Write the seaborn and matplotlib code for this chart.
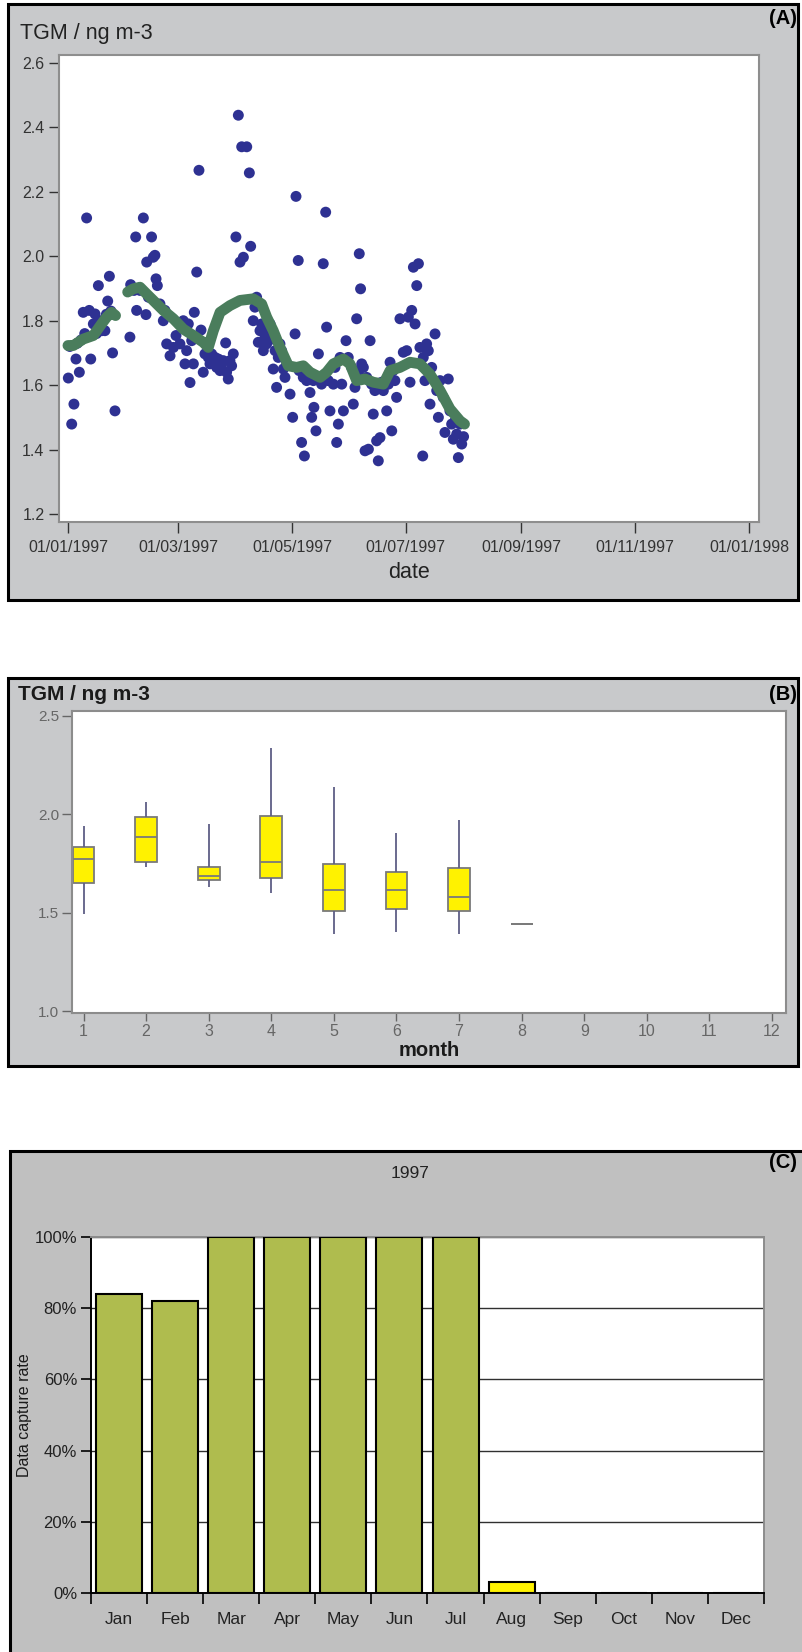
import numpy as np
import pandas as pd
import matplotlib
matplotlib.use("Agg")
import matplotlib.pyplot as plt
import matplotlib.dates as mdates
from matplotlib.patches import Rectangle
from matplotlib.ticker import FixedLocator, FuncFormatter
import seaborn as sns

# ---------------- data ----------------
# Panel A: daily TGM (day offset from 01/01/1997, value ng m-3)
tgm_day = [0.2, 1.0, 2.0, 3.2, 4.3, 5.0, 6.1, 7.0, 8.2, 9.0, 10.0, 11.4, 12.2, 13.6, 14.5, 15.3, 16.3, 17.2,
           18.1, 19.8, 20.6, 21.3, 22.2, 23.0, 23.9, 25.2,
           33.2, 33.6, 35.4, 36.3, 36.8, 38.6, 40.4, 41.8, 42.2, 43.1, 44.8, 45.7, 46.6, 47.2, 47.9, 49.3,
           51.1, 52.0, 52.9, 54.7, 56.5, 57.9,
           60.0, 61.8, 62.7, 63.6, 64.5, 65.4, 66.3, 67.2, 67.7, 69.0, 70.2, 71.3, 72.5, 73.4, 74.3, 75.2,
           76.1, 77.0, 77.9, 78.8, 79.7, 80.6, 81.5, 82.4, 83.2, 84.5, 85.0, 85.9, 86.8, 87.7, 88.6,
           90.0, 91.3, 92.2, 93.1, 94.0, 95.8, 97.2, 97.9, 99.3, 100.2, 101.1, 102.0, 102.9, 103.8, 104.7,
           105.6, 106.5, 107.4, 108.3, 109.2, 110.0, 111.0, 111.8, 112.7, 113.6, 114.5, 115.4, 116.3,
           117.2, 119.0,
           120.4, 121.7, 122.2, 123.4, 123.9, 125.2, 126.1, 126.7, 127.9, 128.8, 129.7, 130.6, 131.5,
           131.8, 132.9, 134.2, 135.9, 136.8, 138.1, 138.6, 139.5, 140.4, 142.2, 143.1, 144.0, 144.9,
           145.8, 146.7, 147.6, 149.0, 150.2,
           152.0, 152.9, 153.8, 154.7, 155.6, 156.1, 156.8, 157.4, 158.3, 159.2, 160.1, 161.0, 161.9,
           162.7, 163.6, 164.5, 165.4, 166.3, 167.2, 168.1, 169.0, 170.8, 171.7, 172.6, 173.5, 174.3,
           175.2, 176.1, 177.9, 179.7,
           181.5, 182.4, 183.3, 184.2, 185.1, 186.0, 186.9, 187.8, 188.6, 190.1, 190.4, 191.3, 192.2,
           193.1, 194.0, 194.9, 196.7, 197.6, 198.5, 199.4, 201.1, 202.0, 203.8, 204.7, 205.6, 206.5,
           207.4, 208.3, 209.2, 210.1, 211.0,
           212.0]
tgm_val = [1.622, 1.720, 1.479, 1.541, 1.681, 1.730, 1.640, 1.740, 1.826, 1.760, 2.119, 1.832, 1.681, 1.790,
           1.821, 1.760, 1.909, 1.800, 1.769, 1.769, 1.820, 1.861, 1.938, 1.830, 1.700, 1.520,
           1.749, 1.912, 1.894, 2.060, 1.832, 1.894, 2.119, 1.819, 1.982, 1.873, 2.060, 1.997, 2.003,
           1.930, 1.909, 1.852, 1.800, 1.832, 1.728, 1.691, 1.717, 1.754,
           1.728, 1.800, 1.666, 1.707, 1.790, 1.608, 1.738, 1.666, 1.826, 1.951, 2.267, 1.771, 1.640,
           1.697, 1.728, 1.686, 1.666, 1.697, 1.676, 1.686, 1.655, 1.681, 1.645, 1.666, 1.676, 1.731,
           1.640, 1.619, 1.676, 1.660, 1.697,
           2.060, 2.438, 1.982, 2.340, 1.997, 2.340, 2.259, 2.031, 1.800, 1.842, 1.873, 1.733, 1.769,
           1.790, 1.707, 1.748, 1.728, 1.769, 1.790, 1.743, 1.650, 1.707, 1.593, 1.686, 1.728, 1.707,
           1.650, 1.624, 1.666, 1.572,
           1.500, 1.759, 2.186, 1.987, 1.645, 1.422, 1.624, 1.380, 1.614, 1.640, 1.577, 1.500, 1.614,
           1.531, 1.458, 1.697, 1.603, 1.977, 2.137, 1.780, 1.614, 1.520, 1.603, 1.655, 1.422, 1.479,
           1.686, 1.603, 1.520, 1.738, 1.686,
           1.655, 1.541, 1.593, 1.806, 1.640, 2.008, 1.899, 1.666, 1.655, 1.396, 1.624, 1.401, 1.738,
           1.603, 1.510, 1.583, 1.427, 1.365, 1.437, 1.609, 1.583, 1.520, 1.603, 1.671, 1.458, 1.645,
           1.614, 1.562, 1.806, 1.702,
           1.707, 1.811, 1.609, 1.832, 1.966, 1.790, 1.909, 1.977, 1.717, 1.380, 1.686, 1.614, 1.728,
           1.707, 1.541, 1.655, 1.759, 1.583, 1.500, 1.614, 1.562, 1.453, 1.619, 1.520, 1.479, 1.432,
           1.489, 1.448, 1.375, 1.479, 1.417,
           1.440]

# Panel A: smoothed curve (two segments)
smooth1_day = [0.0, 2.9, 8.2, 13.6, 18.0, 20.7, 23.4, 25.5]
smooth1_val = [1.723, 1.723, 1.743, 1.754, 1.790, 1.811, 1.826, 1.816]
smooth2_day = [32.0, 35.0, 38.6, 42.2, 45.7, 51.1, 56.5, 61.8, 67.2, 72.5, 75.2, 77.9, 81.5, 86.8, 92.2,
               99.3, 103.8, 106.5, 110.0, 113.6, 118.1, 122.5, 126.1, 129.7, 135.1, 138.6, 142.2, 147.6,
               151.1, 154.7, 159.2, 163.6, 169.0, 172.6, 177.9, 183.3, 188.6, 194.0, 199.4, 204.7, 210.1,
               212.5]
smooth2_val = [1.889, 1.899, 1.904, 1.883, 1.863, 1.832, 1.806, 1.774, 1.754, 1.733, 1.717, 1.769, 1.826,
               1.847, 1.863, 1.868, 1.852, 1.811, 1.769, 1.717, 1.660, 1.655, 1.660, 1.640, 1.624, 1.640,
               1.666, 1.681, 1.666, 1.614, 1.619, 1.609, 1.603, 1.645, 1.655, 1.671, 1.666, 1.634, 1.583,
               1.526, 1.489, 1.479]

# Panel B: monthly box statistics
box_month = [1, 2, 3, 4, 5, 6, 7, 8]
box_low = [1.492, 1.731, 1.632, 1.599, 1.392, 1.400, 1.392, 1.440]
box_q1 = [1.649, 1.756, 1.665, 1.678, 1.509, 1.517, 1.509, 1.440]
box_med = [1.771, 1.885, 1.687, 1.759, 1.615, 1.615, 1.578, 1.440]
box_q3 = [1.836, 1.987, 1.734, 1.993, 1.748, 1.705, 1.726, 1.440]
box_high = [1.942, 2.061, 1.951, 2.337, 2.139, 1.905, 1.971, 1.440]
month_ticks = list(range(1, 13))

# Panel C: data capture rate (%)
cap_month = ["Jan", "Feb", "Mar", "Apr", "May", "Jun", "Jul", "Aug", "Sep", "Oct", "Nov", "Dec"]
cap_rate = [84, 82, 100, 100, 100, 100, 100, 3, 0, 0, 0, 0]
pct_ticks = [0, 20, 40, 60, 80, 100]

# ---------------- figure ----------------
sns.set_theme(style="white")
plt.rcParams["font.family"] = ["Liberation Sans", "DejaVu Sans"]
W, H = 803, 1652
fig = plt.figure(figsize=(W / 100, H / 100), dpi=100)
fig.patch.set_facecolor("white")


def ax_at(x0, y0, x1, y1):
    return fig.add_axes([x0 / W, 1 - y1 / H, (x1 - x0) / W, (y1 - y0) / H])


def panel(x0, y0, x1, y1, fc):
    fig.add_artist(Rectangle((x0 / W, 1 - y1 / H), (x1 - x0) / W, (y1 - y0) / H,
                             transform=fig.transFigure, facecolor=fc, edgecolor="black",
                             linewidth=2.2, zorder=-10))


def ftext(x, y, s, **kw):
    fig.text(x / W, 1 - y / H, s, **kw)


# ---------- Panel A ----------
panel(8, 4, 798, 600, "#C8C9CB")
axA = ax_at(59, 55, 759, 522)
base = pd.Timestamp("1997-01-01")
dfA = pd.DataFrame({"date": base + pd.to_timedelta(tgm_day, unit="D"), "tgm": tgm_val})
df1 = pd.DataFrame({"date": base + pd.to_timedelta(smooth1_day, unit="D"), "tgm": smooth1_val})
df2 = pd.DataFrame({"date": base + pd.to_timedelta(smooth2_day, unit="D"), "tgm": smooth2_val})
sns.scatterplot(data=dfA, x="date", y="tgm", ax=axA, color="#2E3192", s=62,
                edgecolor="none", linewidth=0, zorder=2)
for d in (df1, df2):
    sns.lineplot(data=d, x="date", y="tgm", ax=axA, color="#4A7D5C", linewidth=7.8,
                 estimator=None, sort=False, zorder=3, solid_capstyle="round")
axA.set_facecolor("white")
axA.set_xlim(base - pd.Timedelta(days=4.8), base + pd.Timedelta(days=370.3))
axA.set_ylim(1.175, 2.625)
axA.set_yticks([1.2, 1.4, 1.6, 1.8, 2.0, 2.2, 2.4, 2.6])
axA.yaxis.set_major_formatter(FuncFormatter(lambda v, p: f"{v:.1f}"))
xt = [pd.Timestamp(s) for s in ["1997-01-01", "1997-03-01", "1997-05-01", "1997-07-01",
                                "1997-09-01", "1997-11-01", "1998-01-01"]]
axA.set_xticks(xt)
axA.xaxis.set_major_formatter(mdates.DateFormatter("%d/%m/%Y"))
axA.set_xlabel("")
axA.set_ylabel("")
for sp in axA.spines.values():
    sp.set_color("#8E8E8E")
    sp.set_linewidth(1.5)
axA.tick_params(axis="y", direction="out", length=7, width=1, color="#333333",
                labelsize=11.5, labelcolor="#333333", pad=3.5, left=True)
axA.tick_params(axis="x", direction="out", length=8, width=1, color="#333333",
                labelsize=11.5, labelcolor="#333333", pad=5, bottom=True)
ftext(20, 33, "TGM / ng m-3", fontsize=15.5, color="#222222", va="center", ha="left")
ftext(797, 18, "(A)", fontsize=14.5, fontweight="bold", color="black",
      va="center", ha="right")
ftext(409, 573, "date", fontsize=15.5, color="#222222", va="center", ha="center")

# ---------- Panel B ----------
panel(8, 678, 798, 1066, "#C8C9CB")
axB = ax_at(72, 711, 786, 1013)
rows_m, rows_v = [], []
for i, m in enumerate(box_month):
    for v in (box_low[i], box_q1[i], box_med[i], box_q3[i], box_high[i]):
        rows_m.append(m)
        rows_v.append(v)
dfB = pd.DataFrame({"month": rows_m, "tgm": rows_v})
sns.boxplot(data=dfB, x="month", y="tgm", order=month_ticks, ax=axB, whis=np.inf,
            width=0.35, color="#FFF200", saturation=1, linecolor="#7A7A7A", linewidth=1.3,
            showcaps=False, showfliers=False,
            whiskerprops={"color": "#5E5E86", "linewidth": 1.3},
            medianprops={"color": "#7A7A7A", "linewidth": 1.3})
axB.set_facecolor("white")
axB.set_xlim(-0.184, 11.224)
axB.set_ylim(0.99, 2.525)
axB.set_yticks([1.0, 1.5, 2.0, 2.5])
axB.yaxis.set_major_formatter(FuncFormatter(lambda v, p: f"{v:.1f}"))
axB.set_xticks(range(12))
axB.set_xticklabels([str(m) for m in month_ticks])
axB.set_xlabel("")
axB.set_ylabel("")
for sp in axB.spines.values():
    sp.set_color("#8C8C8C")
    sp.set_linewidth(1.5)
axB.tick_params(axis="y", direction="out", length=7, width=1, color="#666666",
                labelsize=11, labelcolor="#666666", pad=2, left=True)
axB.tick_params(axis="x", direction="out", length=6, width=1, color="#666666",
                labelsize=11.5, labelcolor="#666666", pad=2, bottom=True)
ftext(18, 695, "TGM / ng m-3", fontsize=15, fontweight="bold", color="#1A1A1A",
      va="center", ha="left")
ftext(797, 695, "(B)", fontsize=14.5, fontweight="bold", color="black",
      va="center", ha="right")
ftext(429, 1051, "month", fontsize=14.5, fontweight="bold", color="#1A1A1A",
      va="center", ha="center")

# ---------- Panel C ----------
panel(10, 1151, 830, 1700, "#C0C0C0")
axC = ax_at(91, 1237, 764, 1593)
dfC = pd.DataFrame({"month": cap_month, "rate": cap_rate})
bar_cols = {m: ("#AFBC4E" if r >= 75 else "#FFF200") for m, r in zip(cap_month, cap_rate)}
sns.barplot(data=dfC, x="month", y="rate", hue="month", palette=bar_cols, legend=False,
            ax=axC, width=0.82, saturation=1, edgecolor="black", linewidth=1.5, zorder=3)
axC.set_facecolor("white")
axC.set_xlim(-0.5, 11.5)
axC.set_ylim(0, 100)
axC.set_yticks(pct_ticks)
axC.yaxis.set_major_formatter(FuncFormatter(lambda v, p: f"{v:.0f}%"))
axC.grid(axis="y", color="#303030", linewidth=1, zorder=0)
axC.set_axisbelow(True)
axC.xaxis.set_minor_locator(FixedLocator(np.arange(-0.5, 12, 1)))
axC.set_xlabel("")
axC.set_ylabel("")
for name, sp in axC.spines.items():
    sp.set_linewidth(1.4)
    sp.set_color("black" if name in ("left", "bottom") else "#8C8C8C")
axC.tick_params(axis="y", direction="out", length=7, width=1.2, color="black",
                labelsize=12, labelcolor="#222222", pad=3, left=True)
axC.tick_params(axis="x", which="major", length=0, labelsize=12.5, labelcolor="#222222", pad=14)
axC.tick_params(axis="x", which="minor", direction="out", length=8, width=1.2, color="black",
                bottom=True)
ftext(410, 1173, "1997", fontsize=12.5, color="#222222", va="center", ha="center")
ftext(797, 1162, "(C)", fontsize=14.5, fontweight="bold", color="black",
      va="center", ha="right")
ftext(25, 1415, "Data capture rate", fontsize=11.5, color="#1A1A1A", rotation=90,
      va="center", ha="center")

fig.savefig("out.png", dpi=100, facecolor="white")
